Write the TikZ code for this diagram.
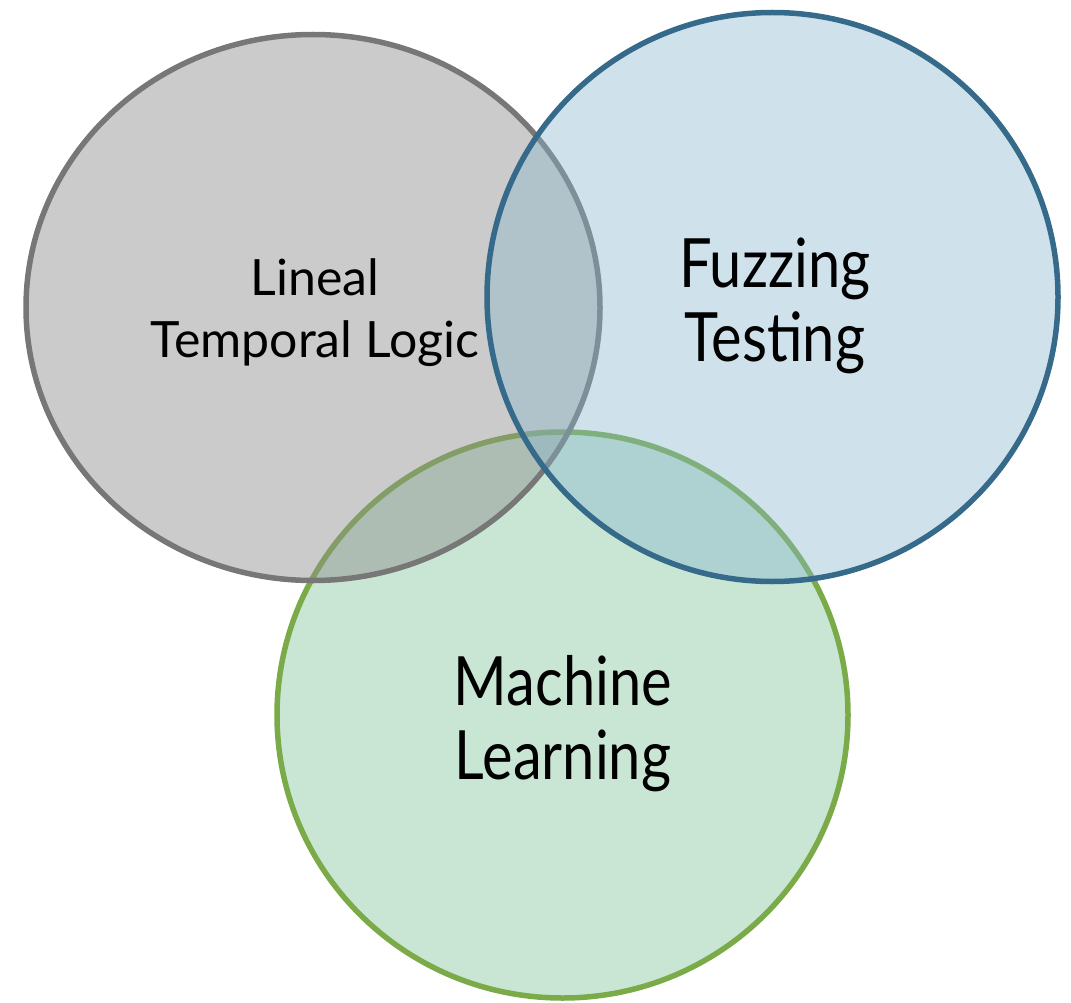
\documentclass[tikz,border=0pt]{standalone}
\usepackage{fontspec}
\newfontfamily\vennfont[FakeStretch=0.85]{Lato}
\newfontfamily\vennwidefont{Lato}
\usetikzlibrary{shapes.geometric}

\definecolor{greyFill}{RGB}{140,140,140}
\definecolor{greyLine}{RGB}{119,119,119}
\definecolor{blueFill}{RGB}{135,182,205}
\definecolor{blueLine}{RGB}{54,106,138}
\definecolor{greenFill}{RGB}{201,230,212}
\definecolor{greenLine}{RGB}{122,171,72}

\tikzset{
  set/.style={ellipse, inner sep=0pt, line width=5.5pt},
  label/.style={inner sep=0pt, align=center, text=black},
  biglabel/.style={label, font=\vennfont\fontsize{68}{74}\selectfont},
  smalllabel/.style={label, font=\vennwidefont\fontsize{50}{62}\selectfont},
}

\begin{document}
\begin{tikzpicture}[x=1pt, y=-1pt]
  \useasboundingbox (0,0) rectangle (1071,1003);

  % the three sets, lower one first
  \node[set, draw=greenLine, fill=greenFill,
        minimum width=571pt, minimum height=566pt] (ml) at (562.5,715) {};
  \node[set, draw=greyLine, fill=greyFill, fill opacity=0.45,
        minimum width=574pt, minimum height=546pt] (ltl) at (313,307.5) {};
  \node[set, draw=blueLine, fill=blueFill, fill opacity=0.4,
        minimum width=571pt, minimum height=569pt] (fz) at (772.5,297) {};

  % set names
  \node[smalllabel] (ltltext) at (315,313) {Lineal\\Temporal Logic};
  \node[biglabel] (fztext) at (775,306) {Fuzzing\\Testing};
  \node[biglabel] (mltext) at (563,724) {Machine\\Learning};
\end{tikzpicture}
\end{document}
